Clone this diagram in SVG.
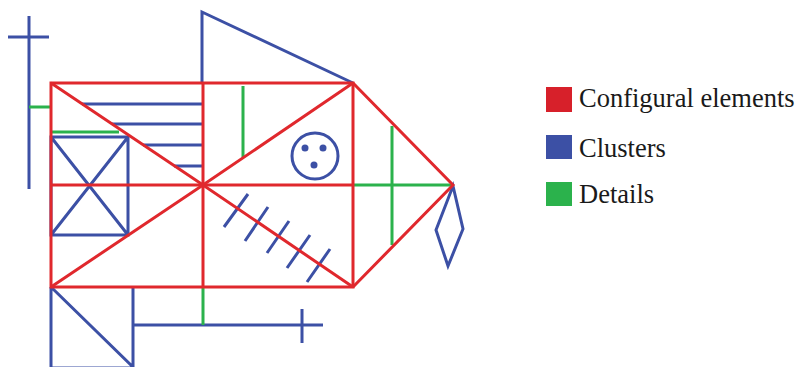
<svg xmlns="http://www.w3.org/2000/svg" width="799" height="367" viewBox="0 0 799 367">
<style>
.b{stroke:#3c50a5;stroke-width:3;fill:none;stroke-linecap:butt;stroke-linejoin:miter}
.g{stroke:#2bb24c;stroke-width:3;fill:none}
.r{stroke:#e0282d;stroke-width:3;fill:none;stroke-linejoin:miter}
.dot{fill:#3c50a5}
.lt{font-family:"Liberation Serif","Times New Roman",serif;font-size:26.5px;fill:#1a1a1a}
</style>
<rect width="799" height="367" fill="#ffffff"/>
<g id="clusters">
  <path class="b" d="M29 16V189M8 37H49"/>
  <path class="b" d="M82 104H203M112 124H203M143 145H203M174 166H203"/>
  <path class="b" d="M51 137H128V235H51ZM51 137L128 235M128 137L51 235"/>
  <path class="b" d="M51 287V368H133V287M51 287L133 367"/>
  <path class="b" d="M133 325H323M302 309V343"/>
  <path class="b" d="M202 83V12L353 83"/>
  <circle class="b" cx="315" cy="156" r="23"/>
  <circle class="dot" cx="305" cy="148" r="3.5"/>
  <circle class="dot" cx="323" cy="148" r="3.5"/>
  <circle class="dot" cx="314" cy="165" r="3.5"/>
  <path class="b" d="M224 227L248 194M245 241L268 207M267 253L289 221M287 268L310 235M307 282L330 249"/>
  <path class="b" d="M453 186L463 229L448 266L436 230Z"/>
</g>
<g id="details">
  <path class="g" d="M29 107H51M51 132H119M243 86V157M353 185H453M392 126V245M203 287V325"/>
</g>
<g id="configural">
  <path class="r" d="M51 83H353V287H51ZM203 83V287M51 185H353"/>
  <path class="r" d="M51 83L203 185L353 83M51 287L203 185L353 287"/>
  <path class="r" d="M353 83L453 185L353 287"/>
</g>
<g id="legend">
  <rect x="546" y="87" width="26" height="25" fill="#d7202a"/>
  <text class="lt" x="579" y="107">Configural elements</text>
  <rect x="546" y="135" width="26" height="24" fill="#3c50a5"/>
  <text class="lt" x="579" y="157">Clusters</text>
  <rect x="546" y="182" width="26" height="24" fill="#2bb24c"/>
  <text class="lt" x="579" y="203">Details</text>
</g>
</svg>
